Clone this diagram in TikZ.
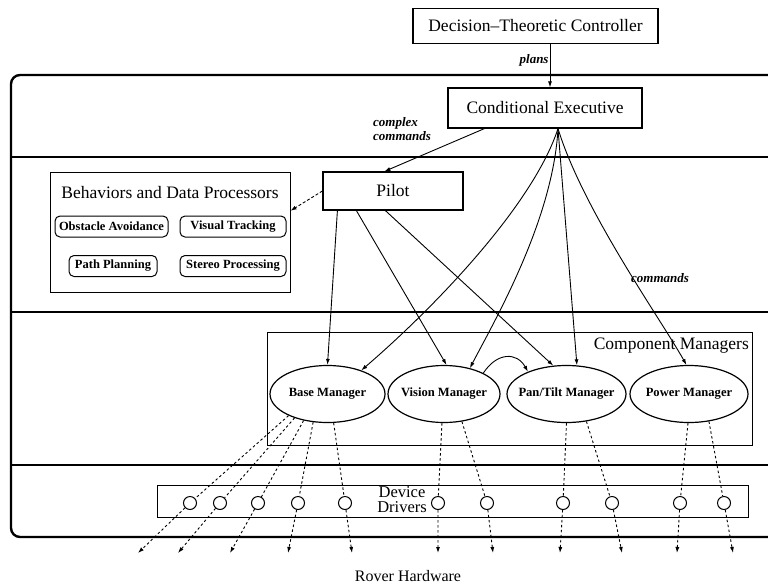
\documentclass[tikz,border=0pt]{standalone}
\usepackage{fontspec}
\setmainfont{Liberation Serif}
\usepackage{xcolor}
\usepackage{tikz}
\usetikzlibrary{shapes.geometric,arrows.meta}
\definecolor{ink}{HTML}{000000}
\definecolor{paper}{HTML}{FFFFFF}
\tikzset{
  box/.style={draw=ink, line width=1.2pt, inner sep=0pt, font=\fontsize{17.5}{20}\selectfont},
  rbox/.style={draw=ink, line width=1pt, rounded corners=5pt, inner sep=0pt, minimum height=21pt, font=\fontsize{12.5}{14}\selectfont\bfseries},
  mgr/.style={ellipse, draw=ink, line width=1.2pt, inner xsep=-12pt, inner ysep=0pt, minimum height=57pt, font=\fontsize{12.6}{14}\selectfont\bfseries},
  drv/.style={circle, draw=ink, line width=1pt, minimum size=13pt, inner sep=0pt},
  layer/.style={draw=ink, line width=2.4pt},
  arr/.style={draw=ink, line width=0.9pt, -{Latex[length=6pt,width=4pt]}},
  dots/.style={draw=ink, line width=0.9pt, dash pattern=on 2.5pt off 2.5pt, -{Latex[length=6pt,width=4pt]}},
  lab/.style={text=ink, inner sep=0pt, font=\fontsize{17.5}{20}\selectfont},
  labi/.style={text=ink, inner sep=1pt, font=\fontsize{13}{14}\selectfont\bfseries\itshape},
}

\begin{document}
\begin{tikzpicture}[x=1pt,y=-1pt]
  \fill[paper] (0,0) rectangle (768,584);
  \useasboundingbox (0,0) rectangle (768,584);
  % layers
  \draw[layer, rounded corners=9pt] (768,75) -- (11,75) -- (11,537) -- (768,537);
  \foreach \y in {157,312,465} {\draw[layer] (11,\y) -- (768,\y);}
  % planning and executive
  \node[box, minimum width=245pt, minimum height=35pt] (dtc) at (535.5,26) {Decision--Theoretic Controller};
  \node[box, minimum width=194pt, minimum height=40pt] (ce) at (545,108) {Conditional Executive};
  \draw[arr] ([xshift=14.5pt]dtc.south) -- ([xshift=5pt]ce.north) node[labi, pos=0.38, left] (plans) {plans};
  \node[labi, align=left, anchor=west] (cplx) at (372,129) {complex\\commands};
  \node[box, minimum width=140pt, minimum height=38pt] (pilot) at (393,191) {Pilot};
  \draw[arr] ([xshift=37pt]ce.south west) -- ([xshift=62pt]pilot.north west);
  % behaviors
  \node[box, line width=1pt, minimum width=240pt, minimum height=120pt] (bdp) at (170,232) {};
  \node[lab] (bdpt) at (170,193) {Behaviors and Data Processors};
  \node[rbox, minimum width=113pt] (oa) at (111.5,226.5) {Obstacle Avoidance};
  \node[rbox, minimum width=106pt] (vt) at (233,226.5) {Visual Tracking};
  \node[rbox, minimum width=88pt] (pp) at (113,266) {Path Planning};
  \node[rbox, minimum width=106pt] (sp) at (233,266) {Stereo Processing};
  \draw[arr, dash pattern=on 3pt off 2pt] (pilot.west) -- (bdp.10);
  % component managers
  \node[box, line width=1pt, minimum width=485pt, minimum height=113pt] (cm) at (509.5,388.5) {};
  \node[lab, anchor=east] (cmt) at (749,346) {Component Managers};
  \node[mgr, minimum width=115pt] (bm) at (327.5,394) {Base Manager};
  \node[mgr, minimum width=112pt] (vm) at (444,394) {Vision Manager};
  \node[mgr, minimum width=119pt] (ptm) at (566.5,394) {Pan/Tilt Manager};
  \node[mgr, minimum width=118pt] (pwm) at (689,394) {Power Manager};
  % pilot to managers
  \draw[arr] ([xshift=15pt]pilot.south west) -- (bm.north);
  \draw[arr] ([xshift=34pt]pilot.south west) -- (vm.85);
  \draw[arr] ([xshift=63pt]pilot.south west) -- (ptm.115);
  % executive to managers
  \coordinate (cmd) at ([xshift=13pt]ce.south);
  \draw[arr] (cmd) .. controls (533,205) and (435,307) .. (bm.35);
  \draw[arr] (cmd) .. controls (553,220) and (495,320) .. (vm.45);
  \draw[arr] (cmd) -- (ptm.70);
  \draw[arr] (cmd) .. controls (583,210) and (660,318) .. (pwm.95);
  \node[labi] (cmds) at (660,278) {commands};
  \draw[arr] (vm.28) .. controls (497,352) and (517,352) .. (ptm.150);
  % device drivers
  \node[box, line width=1pt, minimum width=591pt, minimum height=32pt] (dd) at (452.5,501) {};
  \node[lab, align=center, font=\fontsize{16.5}{15}\selectfont] (ddt) at (402,500) {Device\\Drivers};
  \foreach \i/\x in {1/190,2/220,3/258,4/298,5/345,6/438,7/487,8/563,9/612,10/680,11/724} {\node[drv] (d\i) at (\x,503) {};}
  \foreach \i/\x in {1/138,2/178,3/230,4/288,5/352,6/438,7/493,8/560,9/622,10/677,11/733} {\coordinate (h\i) at (\x,553);}
  \foreach \s/\i in {bm.209/1,bm.216/2,bm.228/3,bm.243/4,bm.282/5,vm.266/6,vm.303/7,ptm.270/8,ptm.306/9,pwm.268/10,pwm.306/11} {\draw[dots] (\s) -- (d\i) -- (h\i);}
  \node[lab, font=\fontsize{16}{18}\selectfont] (rh) at (408,576) {Rover Hardware};
\end{tikzpicture}
\end{document}
